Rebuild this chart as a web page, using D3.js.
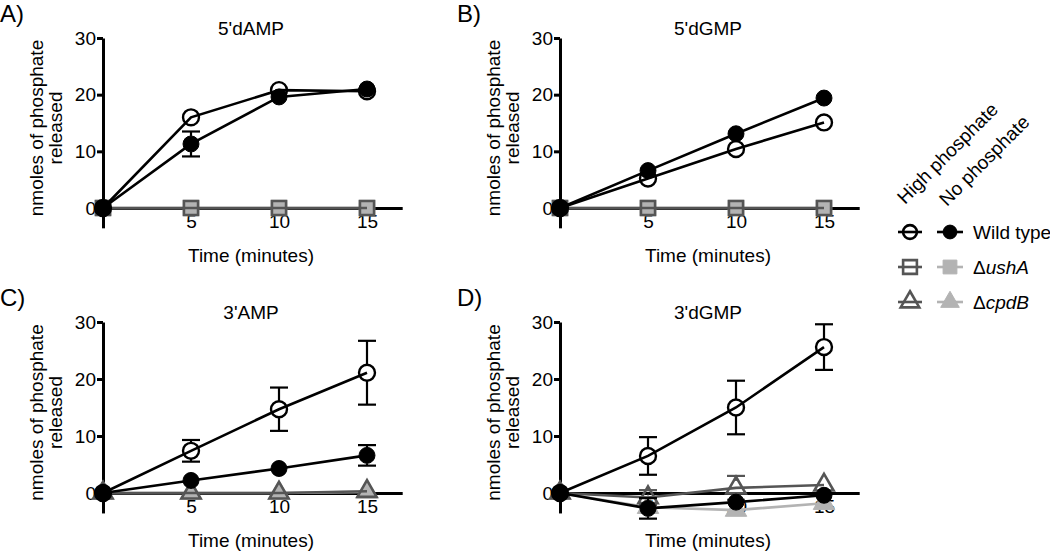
<!DOCTYPE html>
<html><head><meta charset="utf-8">
<script src="https://cdn.jsdelivr.net/npm/d3@7"></script>
<style>
html,body{margin:0;padding:0;background:#fff;}
svg{display:block;font-family:"Liberation Sans",Arial,sans-serif;}
</style></head>
<body><svg id="chart" width="1050" height="557"></svg>
<script>
// ---------- data ----------
const times = [0, 5, 10, 15];
const panelLetters = ["A)", "B)", "C)", "D)"];
const panelTitles = ["5'dAMP", "5'dGMP", "3'AMP", "3'dGMP"];
const yTicks = [0, 10, 20, 30];
const xTicks = [5, 10, 15];
const yLabelLines = ["nmoles of phosphate", "released"];
const xLabel = "Time (minutes)";
const legendHeaders = ["High phosphate", "No phosphate"];
const legendNames = ["Wild type", "ushA", "cpdB"];

// Panel A: 5'dAMP
const aWtHigh = [0, 16.0, 20.8, 20.6], aWtHighErr = [0, 1.4, 0.3, 0.3];
const aWtNo = [0, 11.3, 19.6, 21.0], aWtNoErr = [0, 2.2, 0.4, 0.3];
const aMutHigh = [0, 0, 0, 0], aMutHighErr = [0, 0, 0, 0];
const aMutNo = [0, 0, 0, 0], aMutNoErr = [0, 0, 0, 0];
// Panel B: 5'dGMP
const bWtHigh = [0, 5.2, 10.4, 15.1], bWtHighErr = [0, 0.3, 0.3, 0.3];
const bWtNo = [0, 6.6, 13.1, 19.4], bWtNoErr = [0, 0.3, 0.3, 0.3];
const bMutHigh = [0, 0, 0, 0], bMutHighErr = [0, 0, 0, 0];
const bMutNo = [0, 0, 0, 0], bMutNoErr = [0, 0, 0, 0];
// Panel C: 3'AMP
const cWtHigh = [0, 7.4, 14.7, 21.1], cWtHighErr = [0, 1.9, 3.8, 5.6];
const cWtNo = [0, 2.2, 4.3, 6.6], cWtNoErr = [0, 0.4, 1.2, 1.8];
const cMutHigh = [0, 0, 0, 0.3], cMutHighErr = [0, 0, 0, 0];
const cMutNo = [0, 0, 0, 0.2], cMutNoErr = [0, 0, 0, 0];
// Panel D: 3'dGMP
const dWtHigh = [0, 6.5, 15.0, 25.6], dWtHighErr = [0, 3.3, 4.7, 4.0];
const dWtNo = [0, -2.7, -1.6, -0.4], dWtNoErr = [0, 1.8, 0.6, 0.5];
const dMutHigh = [0, -0.8, 0.9, 1.4], dMutHighErr = [0, 1.3, 2.1, 1.2];
const dMutNo = [0, -2.5, -3.0, -1.8], dMutNoErr = [0, 0.3, 0.3, 0.3];

// ---------- styling ----------
const BLACK = "#000", DARK = "#555", LIGHT = "#b3b3b3";
const FONT = 19;

const panels = [
  {letter: panelLetters[0], title: panelTitles[0], ax: 103, y30: 38, y0: 208, mutShape: "square",
   wtHigh: aWtHigh, wtHighErr: aWtHighErr, wtNo: aWtNo, wtNoErr: aWtNoErr,
   mutHigh: aMutHigh, mutHighErr: aMutHighErr, mutNo: aMutNo, mutNoErr: aMutNoErr},
  {letter: panelLetters[1], title: panelTitles[1], ax: 560, y30: 38, y0: 208, mutShape: "square",
   wtHigh: bWtHigh, wtHighErr: bWtHighErr, wtNo: bWtNo, wtNoErr: bWtNoErr,
   mutHigh: bMutHigh, mutHighErr: bMutHighErr, mutNo: bMutNo, mutNoErr: bMutNoErr},
  {letter: panelLetters[2], title: panelTitles[2], ax: 103, y30: 322, y0: 493, mutShape: "triangle",
   wtHigh: cWtHigh, wtHighErr: cWtHighErr, wtNo: cWtNo, wtNoErr: cWtNoErr,
   mutHigh: cMutHigh, mutHighErr: cMutHighErr, mutNo: cMutNo, mutNoErr: cMutNoErr},
  {letter: panelLetters[3], title: panelTitles[3], ax: 560, y30: 322, y0: 493, mutShape: "triangle",
   wtHigh: dWtHigh, wtHighErr: dWtHighErr, wtNo: dWtNo, wtNoErr: dWtNoErr,
   mutHigh: dMutHigh, mutHighErr: dMutHighErr, mutNo: dMutNo, mutNoErr: dMutNoErr}
];

const svg = d3.select("#chart");

function markerPath(shape, size) {
  const s = shape === "circle" ? d3.symbolCircle : shape === "square" ? d3.symbolSquare : d3.symbolTriangle;
  return d3.symbol().type(s).size(size)();
}

function drawSeries(g, x, y, vals, errs, opt) {
  const pts = times.map((t, i) => ({t, v: vals[i], e: errs[i]}));
  const line = d3.line().x(d => x(d.t)).y(d => y(d.v));
  g.append("path").datum(pts).attr("d", line)
    .attr("fill", "none").attr("stroke", opt.lineColor).attr("stroke-width", 2.6);
  const r = opt.r;
  pts.filter(d => d.e > 0).forEach(d => {
    const cx = x(d.t), top = y(d.v + d.e), bot = y(d.v - d.e), cy = y(d.v);
    const eg = g.append("g").attr("stroke", opt.lineColor).attr("stroke-width", 2.2);
    if (cy - r > top) {
      eg.append("line").attr("x1", cx).attr("x2", cx).attr("y1", top).attr("y2", cy - r);
      eg.append("line").attr("x1", cx - 9).attr("x2", cx + 9).attr("y1", top).attr("y2", top);
    }
    if (bot > cy + r) {
      eg.append("line").attr("x1", cx).attr("x2", cx).attr("y1", cy + r).attr("y2", bot);
      eg.append("line").attr("x1", cx - 9).attr("x2", cx + 9).attr("y1", bot).attr("y2", bot);
    }
  });
  g.selectAll(null).data(pts).enter().append("path")
    .attr("d", markerPath(opt.shape, opt.size))
    .attr("transform", d => `translate(${x(d.t)},${y(d.v)})`)
    .attr("fill", opt.fill).attr("stroke", opt.stroke).attr("stroke-width", opt.sw);
}

panels.forEach(p => {
  const g = svg.append("g");
  const unit = 17.6;
  const x = d3.scaleLinear().domain([0, 17]).range([p.ax, p.ax + 17 * unit]);
  const per = (p.y0 - p.y30) / 30;
  const y = d3.scaleLinear().domain([-3.5, 30]).range([p.y0 + 3.5 * per, p.y30]);

  g.append("text").attr("x", p.ax - 103).attr("y", p.y30 - 16).attr("font-size", 24).text(p.letter);
  g.append("text").attr("x", p.ax + 148).attr("y", p.y30 - 3).attr("text-anchor", "middle")
    .attr("font-size", FONT).text(p.title);
  const yl = g.append("text").attr("transform", `translate(${p.ax - 60},${(p.y0 + p.y30) / 2 + 5}) rotate(-90)`)
    .attr("text-anchor", "middle").attr("font-size", FONT);
  yl.append("tspan").attr("x", 0).attr("y", 0).text(yLabelLines[0]);
  yl.append("tspan").attr("x", 0).attr("y", 19).text(yLabelLines[1]);
  g.append("text").attr("x", p.ax + 148).attr("y", p.y0 + 54).attr("text-anchor", "middle")
    .attr("font-size", FONT).text(xLabel);

  const yAxis = g.append("g").attr("transform", `translate(${p.ax},0)`)
    .call(d3.axisLeft(y).tickValues(yTicks).tickSize(6).tickSizeOuter(0).tickPadding(1));
  const xAxis = g.append("g").attr("transform", `translate(0,${p.y0})`)
    .call(d3.axisBottom(x).tickValues(xTicks).tickSize(0).tickSizeOuter(0).tickPadding(7));
  [yAxis, xAxis].forEach(a => {
    a.select(".domain").attr("stroke", BLACK).attr("stroke-width", 3);
    a.selectAll(".tick line").attr("stroke", BLACK).attr("stroke-width", 3);
    a.selectAll(".tick text").attr("fill", BLACK).attr("font-size", FONT)
      .attr("font-family", "Liberation Sans, Arial, sans-serif");
  });

  const sg = g.append("g");
  drawSeries(sg, x, y, p.mutNo, p.mutNoErr, {lineColor: LIGHT, shape: p.mutShape, size: p.mutShape === "square" ? 240 : 200,
    fill: LIGHT, stroke: LIGHT, sw: 1, r: 7});
  drawSeries(sg, x, y, p.mutHigh, p.mutHighErr, {lineColor: DARK, shape: p.mutShape, size: p.mutShape === "square" ? 200 : 160,
    fill: "none", stroke: DARK, sw: 2.6, r: 7});
  drawSeries(sg, x, y, p.wtNo, p.wtNoErr, {lineColor: BLACK, shape: "circle", size: 200,
    fill: BLACK, stroke: BLACK, sw: 1, r: 8});
  drawSeries(sg, x, y, p.wtHigh, p.wtHighErr, {lineColor: BLACK, shape: "circle", size: 200,
    fill: "none", stroke: BLACK, sw: 2.4, r: 8});
});

// ---------- legend ----------
const lg = svg.append("g");
lg.append("text").attr("transform", "translate(905,205) rotate(-45)").attr("font-size", FONT).text(legendHeaders[0]);
lg.append("text").attr("transform", "translate(947,207) rotate(-45)").attr("font-size", FONT).text(legendHeaders[1]);
const rows = [
  {y: 232, name: legendNames[0], delta: false, shape: "circle", hiCol: BLACK, noCol: BLACK, size: 150},
  {y: 267, name: legendNames[1], delta: true, shape: "square", hiCol: DARK, noCol: LIGHT, size: 190},
  {y: 302, name: legendNames[2], delta: true, shape: "triangle", hiCol: DARK, noCol: LIGHT, size: 150}
];
rows.forEach(r => {
  lg.append("line").attr("x1", 898).attr("x2", 922).attr("y1", r.y).attr("y2", r.y).attr("stroke", r.hiCol).attr("stroke-width", 2.6);
  lg.append("path").attr("d", markerPath(r.shape, r.size)).attr("transform", `translate(910,${r.y})`)
    .attr("fill", "none").attr("stroke", r.hiCol).attr("stroke-width", 2.6);
  lg.append("line").attr("x1", 937).attr("x2", 963).attr("y1", r.y).attr("y2", r.y).attr("stroke", r.noCol).attr("stroke-width", 2.6);
  lg.append("path").attr("d", markerPath(r.shape, r.size)).attr("transform", `translate(950,${r.y})`)
    .attr("fill", r.noCol).attr("stroke", r.noCol).attr("stroke-width", 1);
  const t = lg.append("text").attr("x", 973).attr("y", r.y + 7).attr("font-size", FONT);
  if (r.delta) {
    t.append("tspan").text("\u0394");
    t.append("tspan").attr("font-style", "italic").text(r.name);
  } else {
    t.text(r.name);
  }
});
</script></body></html>
